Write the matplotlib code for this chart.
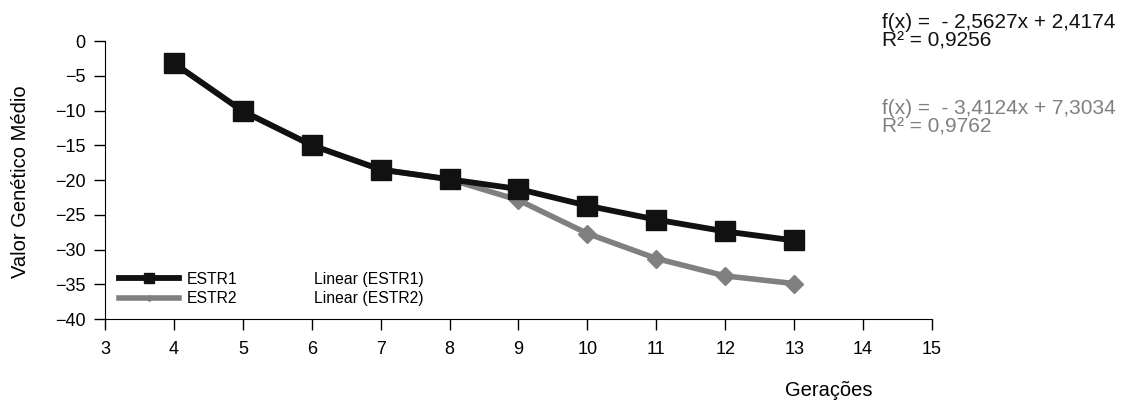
import matplotlib
matplotlib.use("Agg")
import matplotlib.pyplot as plt
from matplotlib.lines import Line2D

plt.rcParams['font.family'] = ['Liberation Sans', 'DejaVu Sans']

# Dados
geracoes = [4, 5, 6, 7, 8, 9, 10, 11, 12, 13]
estr1 = [-3.2, -10.1, -15.0, -18.5, -19.9, -21.3, -23.7, -25.7, -27.4, -28.7]
estr2 = [-3.2, -10.1, -15.0, -18.5, -19.9, -22.9, -27.7, -31.3, -33.8, -34.9]

eq1 = "f(x) =  - 2,5627x + 2,4174\nR² = 0,9256"
eq2 = "f(x) =  - 3,4124x + 7,3034\nR² = 0,9762"

preto = "#111111"
cinza = "#808080"

fig = plt.figure(figsize=(11.23, 4.03), dpi=100)
ax = fig.add_axes([105 / 1123, 1 - 319 / 403, (932 - 105) / 1123, (319 - 41) / 403])

ax.plot(geracoes, estr2, color=cinza, lw=4, marker="D", ms=9, zorder=2)
ax.plot(geracoes, estr1, color=preto, lw=4.2, marker="s", ms=14.5, zorder=3)

ax.set_xlim(3, 15)
ax.set_ylim(-40, 0)
ax.set_xticks(range(3, 16))
ax.set_yticks(range(-40, 1, 5))
ax.spines["top"].set_visible(False)
ax.spines["right"].set_visible(False)
ax.tick_params(axis="x", length=8, width=1, pad=8, labelsize=13)
ax.tick_params(axis="y", length=8, width=1, pad=6, labelsize=13)

fig.text(21 / 1123, 1 - 182 / 403, "Valor Genético Médio", fontsize=14.5,
         rotation=90, ha="center", va="center")
fig.text(829 / 1123, 1 - 390 / 403, "Gerações", fontsize=14.5, ha="center", va="center")

handles = [
    Line2D([], [], color=preto, lw=4.2, marker="s", ms=7),
    Line2D([], [], color=cinza, lw=4, marker="D", ms=3),
    Line2D([], [], color="none"),
    Line2D([], [], color="none"),
]
labels = ["ESTR1", "ESTR2", "Linear (ESTR1)", "Linear (ESTR2)"]
ax.legend(handles, labels, ncol=2, loc="lower left", bbox_to_anchor=(0.0, -0.005),
          frameon=False, fontsize=11.3, handlelength=3.8, columnspacing=0.6,
          handletextpad=0.5, labelspacing=0.3)

fig.text(882 / 1123, 1 - 13 / 403, eq1, fontsize=15, color=preto, ha="left", va="top",
         linespacing=0.95)
fig.text(882 / 1123, 1 - 99 / 403, eq2, fontsize=15, color=cinza, ha="left", va="top",
         linespacing=0.95)

fig.savefig("out.png", dpi=100)
